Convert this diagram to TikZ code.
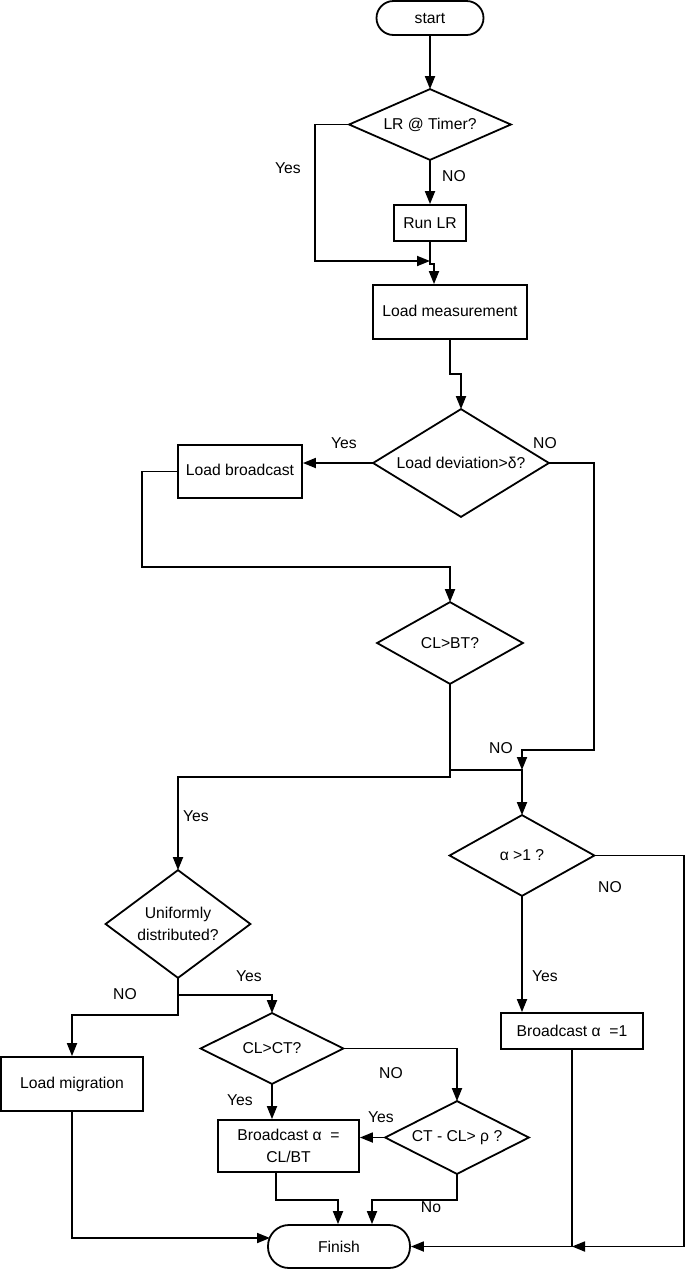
\documentclass[tikz,border=0pt]{standalone}
\usepackage{fontspec}
\setmainfont{Liberation Sans}
\usetikzlibrary{arrows.meta}
\begin{document}
\begin{tikzpicture}[x=1pt,y=-1pt, line width=1.8pt,
  font=\fontsize{15.7}{22}\selectfont,
  >={Triangle[length=13pt,width=10pt]}]
\tikzset{
  box/.style={draw, inner sep=0pt},
  dia/.style={inner sep=0pt},
  lbl/.style={inner sep=0pt}
}
\useasboundingbox (0,0) rectangle (685,1270);
% nodes
\node[box, rounded corners=17pt, minimum width=107pt, minimum height=34pt] (start) at (430,18) {start};
\node[dia, minimum width=160pt, minimum height=69pt] (lr) at (430,124.5) {LR @ Timer?};
\node[box, minimum width=72pt, minimum height=36pt] (run) at (430,223) {Run LR};
\node[box, minimum width=154pt, minimum height=54pt] (meas) at (450,312) {\raisebox{2pt}{Load measurement}};
\node[dia, minimum width=174pt, minimum height=106pt] (dev) at (461,463) {Load deviation>δ?};
\node[box, minimum width=124pt, minimum height=53pt] (bc) at (240,471.5) {\raisebox{3pt}{Load broadcast}};
\node[dia, minimum width=144pt, minimum height=80pt] (clbt) at (450,643) {CL>BT?};
\node[dia, minimum width=143pt, minimum height=79pt] (alpha) at (522,855.5) {α >1 ?};
\node[dia, minimum width=143pt, minimum height=106pt, align=center] (ud) at (178,924) {Uniformly\\distributed?};
\node[box, minimum width=142pt, minimum height=36pt] (b1) at (572,1031) {Broadcast α\ \ =1};
\node[dia, minimum width=141pt, minimum height=69pt] (clct) at (272,1048.5) {CL>CT?};
\node[box, minimum width=142pt, minimum height=54pt] (mig) at (72,1084) {\raisebox{2pt}{Load migration}};
\node[dia, minimum width=142pt, minimum height=71pt] (ctcl) at (457,1137.5) {CT - CL> ρ ?};
\node[box, minimum width=141pt, minimum height=52pt, align=center] (bcl) at (288.5,1146) {Broadcast α\ \ =\\CL/BT};
\node[box, rounded corners=21pt, minimum width=142pt, minimum height=43pt] (fin) at (339,1246.5) {Finish};
\foreach \n in {lr,dev,clbt,alpha,ud,clct,ctcl}
  \draw (\n.north) -- (\n.east) -- (\n.south) -- (\n.west) -- cycle;
% junction coordinates
\coordinate (j1) at (430,261);
\coordinate (j1a) at (315,124.5);
\coordinate (j1b) at (315,261);
\coordinate (j2) at (434,264);
\coordinate (j2a) at (430,264);
\coordinate (j3) at (461,374);
\coordinate (j4) at (142,567);
\coordinate (j5) at (594,750);
\coordinate (j6) at (522,770);
\coordinate (j7) at (450,777);
\coordinate (j8) at (684,1246.5);
\coordinate (j9) at (178,995);
\coordinate (j10) at (178,1015);
\coordinate (j11) at (457,1200);
\coordinate (j12) at (372,1200);
\coordinate (j13) at (276,1200);
\coordinate (j14) at (338,1200);
\coordinate (j15) at (72,1238);
\coordinate (j16) at (270,1238);
% connectors
\draw[->] (start) -- (lr);
\draw[->] (lr) -- (run);
\draw[->] (lr.west) -- (j1a) -- (j1b) -- (j1);
\draw[->] (run.south) -- (j2a) -- (j2) -- (j2 |- meas.north);
\draw[->] (meas.south) |- (j3) -- (dev.north);
\draw[->] (dev.west) -- (dev.west -| bc.east);
\draw[->] (bc.west) -| (j4) -| (clbt.north);
\draw[->] (dev.east) -| (j5) -| (j6);
\draw[->] (clbt.south) |- (j6) -- (alpha.north);
\draw[->] (clbt.south) -- (j7) -| (ud.north);
\draw[->] (alpha.east) -| (j8) -- (j8 -| b1.south);
\draw[->] (alpha.south) -- (alpha.south |- b1.north);
\draw[->] (b1.south) |- (fin.east);
\draw[->] (ud.south) -- (j9) -| (clct.north);
\draw[->] (ud.south) -- (j10) -| (mig.north);
\draw[->] (clct.south) -- (clct.south |- bcl.north);
\draw[->] (clct.east) -| (ctcl.north);
\draw[->] (ctcl.west) -- (ctcl.west -| bcl.east);
\draw[->] (ctcl.south) -- (j11) -- (j12) -- (j12 |- fin.north);
\draw[->] (bcl.south -| j13) -- (j13) -- (j14) -- (j14 |- fin.north);
\draw[->] (mig.south) -- (j15) -- (j16);
% labels
\node[lbl] (l1) at (288,168) {Yes};
\node[lbl] (l2) at (454,176) {NO};
\node[lbl] (l3) at (344,443) {Yes};
\node[lbl] (l4) at (545,443) {NO};
\node[lbl] (l5) at (501,748) {NO};
\node[lbl] (l6) at (196,816) {Yes};
\node[lbl] (l7) at (610,887) {NO};
\node[lbl] (l8) at (249,976) {Yes};
\node[lbl] (l9) at (125,994) {NO};
\node[lbl] (l10) at (545,976) {Yes};
\node[lbl] (l11) at (391,1073) {NO};
\node[lbl] (l12) at (240,1100) {Yes};
\node[lbl] (l13) at (381,1117) {Yes};
\node[lbl] (l14) at (431,1207) {No};
\end{tikzpicture}
\end{document}
